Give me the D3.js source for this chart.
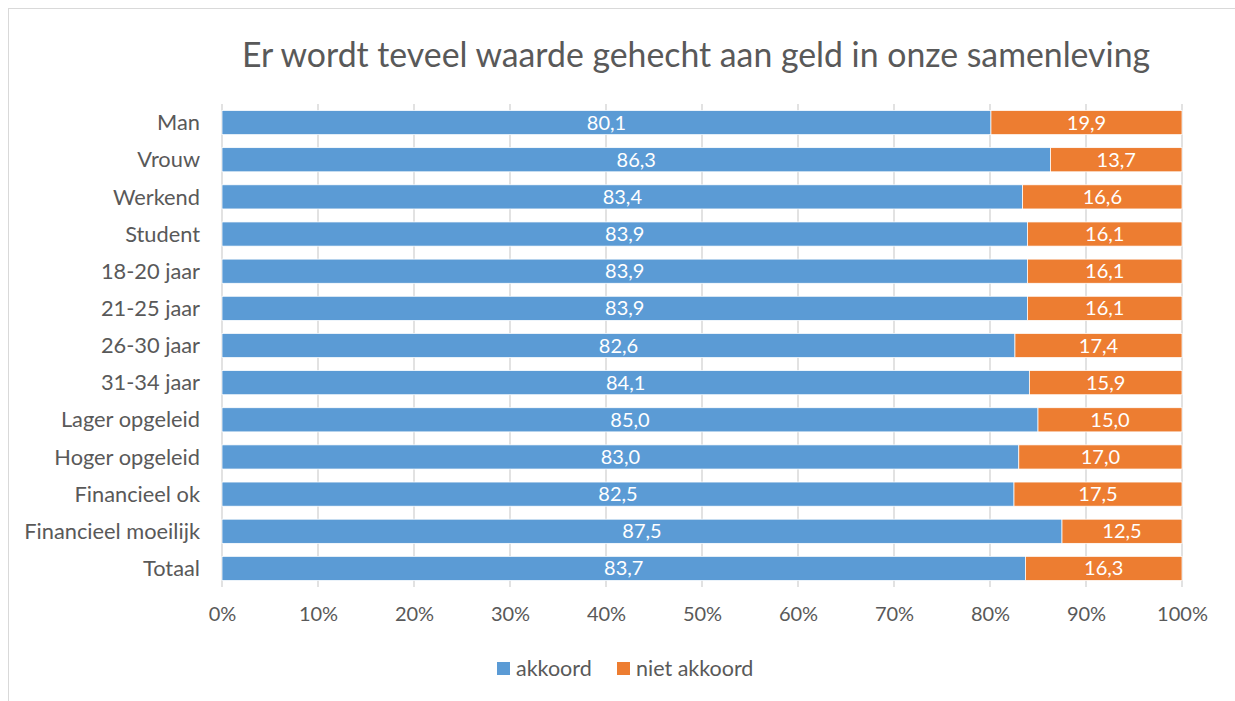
<!DOCTYPE html>
<html>
<head>
<meta charset="utf-8">
<script src="https://d3js.org/d3.v7.min.js"></script>
<style>
    body { margin: 0; background: #fff; }
    svg text { font-family: Lato, "Open Sans", sans-serif; }
</style>
</head>
<body>
<script>
// categories from top to bottom
var categories = ["Man", "Vrouw", "Werkend", "Student", "18-20 jaar", "21-25 jaar", "26-30 jaar",
    "31-34 jaar", "Lager opgeleid", "Hoger opgeleid", "Financieel ok", "Financieel moeilijk", "Totaal"];
var akkoord = [80.1, 86.3, 83.4, 83.9, 83.9, 83.9, 82.6, 84.1, 85.0, 83.0, 82.5, 87.5, 83.7];
var nietAkkoord = [19.9, 13.7, 16.6, 16.1, 16.1, 16.1, 17.4, 15.9, 15.0, 17.0, 17.5, 12.5, 16.3];
var seriesNames = ["akkoord", "niet akkoord"];
var colors = ["#5B9BD5", "#ED7D31"];
var xTicks = [0, 10, 20, 30, 40, 50, 60, 70, 80, 90, 100];

var width = 1235, height = 701;
var margin = {top: 104, left: 222, right: 53, bottom: 114};

var svg = d3.select("body").append("svg")
    .attr("width", width)
    .attr("height", height);

// outer chart border
svg.append("rect")
    .attr("x", 8.5).attr("y", 8.5)
    .attr("width", width + 20).attr("height", height + 20)
    .attr("fill", "none")
    .attr("stroke", "#d9d9d9");

var x = d3.scaleLinear()
    .domain([0, 100])
    .range([margin.left, width - margin.right]);

var y = d3.scaleBand()
    .domain(categories)
    .range([margin.top, height - margin.bottom])
    .paddingInner(0.35)
    .paddingOuter(0.175);

// gridlines
svg.append("g")
    .selectAll("line")
    .data(xTicks)
    .enter().append("line")
    .attr("x1", function(d) { return x(d); })
    .attr("x2", function(d) { return x(d); })
    .attr("y1", margin.top)
    .attr("y2", height - margin.bottom)
    .attr("stroke", "#d9d9d9")
    .attr("stroke-width", 1.5);

// title
svg.append("text")
    .attr("x", 696)
    .attr("y", 67)
    .attr("text-anchor", "middle")
    .attr("font-size", 33.8)
    .attr("fill", "#595959")
    .text("Er wordt teveel waarde gehecht aan geld in onze samenleving");

// stacked data
var rows = categories.map(function(c, i) {
    return {cat: c, values: [akkoord[i], nietAkkoord[i]]};
});

var rowG = svg.append("g").selectAll("g")
    .data(rows)
    .enter().append("g");

rowG.each(function(d) {
    var g = d3.select(this);
    var start = 0;
    d.values.forEach(function(v, j) {
        g.append("rect")
            .attr("x", x(start))
            .attr("y", y(d.cat))
            .attr("width", x(start + v) - x(start))
            .attr("height", y.bandwidth())
            .attr("fill", colors[j])
            .attr("stroke", "#fff")
            .attr("stroke-width", 0.75);
        g.append("text")
            .attr("x", x(start + v / 2))
            .attr("y", y(d.cat) + y.bandwidth() / 2)
            .attr("dy", "0.35em")
            .attr("text-anchor", "middle")
            .attr("font-size", 20)
            .attr("fill", "#fff")
            .text(v.toFixed(1).replace(".", ","));
        start += v;
    });
});

// category labels
svg.append("g").selectAll("text")
    .data(categories)
    .enter().append("text")
    .attr("x", 200)
    .attr("y", function(d) { return y(d) + y.bandwidth() / 2; })
    .attr("dy", "0.35em")
    .attr("text-anchor", "end")
    .attr("font-size", 21.8)
    .attr("fill", "#595959")
    .text(function(d) { return d; });

// x axis labels
var xAxis = d3.axisBottom(x)
    .tickValues(xTicks)
    .tickFormat(function(d) { return d + "%"; })
    .tickSize(0)
    .tickPadding(20);

var axisG = svg.append("g")
    .attr("transform", "translate(0," + (height - margin.bottom) + ")")
    .call(xAxis);
axisG.select(".domain").remove();
axisG.selectAll("text")
    .attr("font-size", 20)
    .attr("font-family", "Lato, sans-serif")
    .attr("fill", "#595959");

// legend
var legendX = [497, 617];
var legend = svg.append("g").selectAll("g")
    .data(seriesNames)
    .enter().append("g")
    .attr("transform", function(d, i) { return "translate(" + legendX[i] + ",662)"; });

legend.append("rect")
    .attr("width", 13)
    .attr("height", 13)
    .attr("fill", function(d, i) { return colors[i]; });

legend.append("text")
    .attr("x", 19)
    .attr("y", 6.5)
    .attr("dy", "0.35em")
    .attr("font-size", 21.5)
    .attr("fill", "#595959")
    .text(function(d) { return d; });
</script>
</body>
</html>
